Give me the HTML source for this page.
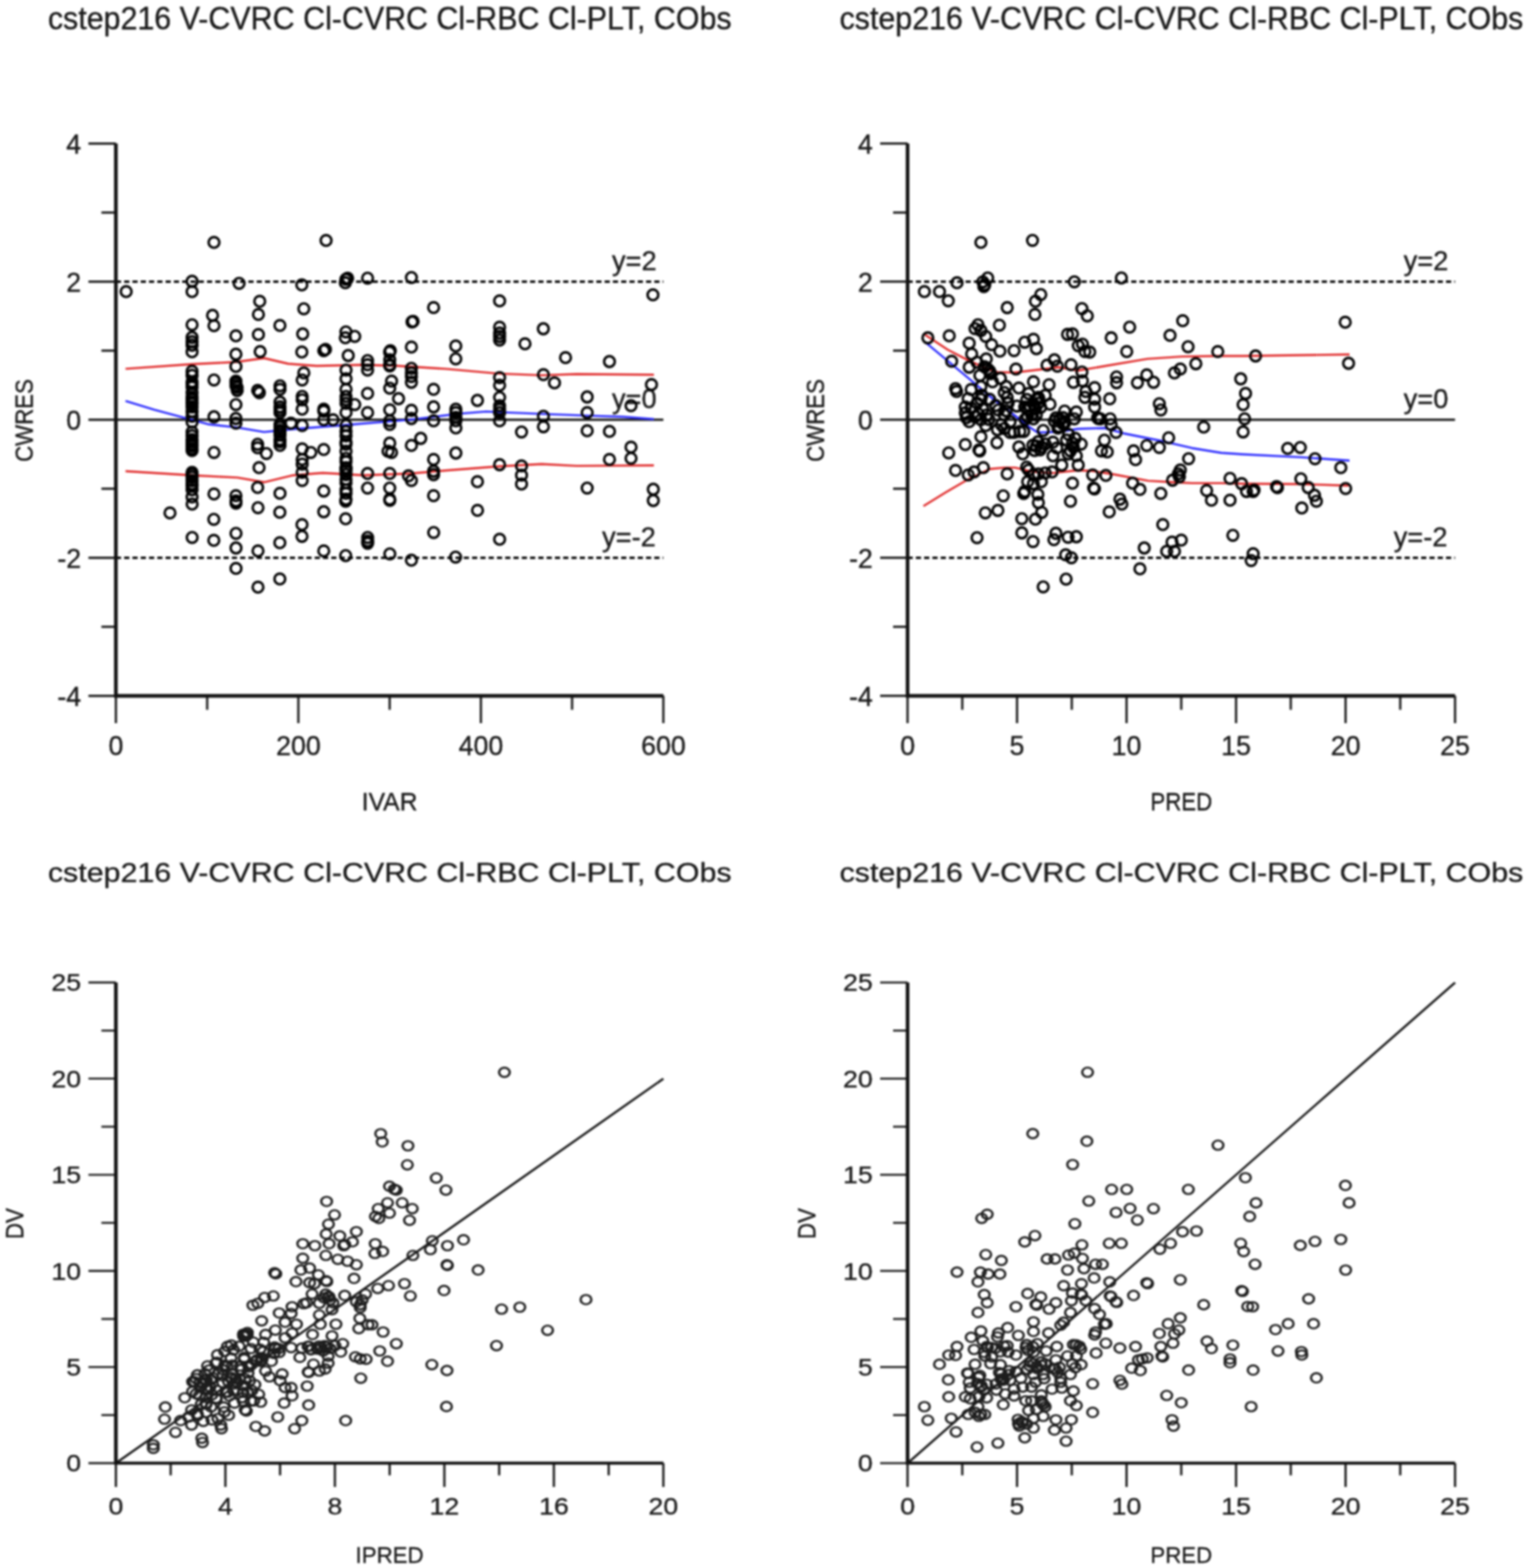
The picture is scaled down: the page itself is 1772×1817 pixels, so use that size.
<!DOCTYPE html>
<html><head><meta charset="utf-8"><style>
html,body{margin:0;padding:0;background:#fff;}
svg{display:block;filter:blur(1px);}
text{stroke:#1a1a1a;stroke-width:0.4px;}
</style></head><body>
<svg width="1772" height="1817" viewBox="0 0 1772 1817" font-family="'Liberation Sans', Arial, sans-serif" fill="#1a1a1a">
<rect width="1772" height="1817" fill="#fff"/>
<g>
<text x="55.4" y="34" font-size="37" textLength="792.5" lengthAdjust="spacingAndGlyphs">cstep216 V-CVRC Cl-CVRC Cl-RBC Cl-PLT, CObs</text>
<line x1="102.5" y1="166.3" x2="134.3" y2="166.3" stroke="#222" stroke-width="2.7"/>
<text x="94.0" y="177.6" font-size="31" text-anchor="end">4</text>
<line x1="102.5" y1="326.3" x2="134.3" y2="326.3" stroke="#222" stroke-width="2.7"/>
<text x="94.0" y="337.6" font-size="31" text-anchor="end">2</text>
<line x1="102.5" y1="486.3" x2="134.3" y2="486.3" stroke="#222" stroke-width="2.7"/>
<text x="94.0" y="497.6" font-size="31" text-anchor="end">0</text>
<line x1="102.5" y1="646.3" x2="134.3" y2="646.3" stroke="#222" stroke-width="2.7"/>
<text x="94.0" y="657.6" font-size="31" text-anchor="end">-2</text>
<line x1="102.5" y1="806.3" x2="134.3" y2="806.3" stroke="#222" stroke-width="2.7"/>
<text x="94.0" y="817.6" font-size="31" text-anchor="end">-4</text>
<line x1="117.5" y1="246.3" x2="134.3" y2="246.3" stroke="#222" stroke-width="2.7"/>
<line x1="117.5" y1="406.3" x2="134.3" y2="406.3" stroke="#222" stroke-width="2.7"/>
<line x1="117.5" y1="566.3" x2="134.3" y2="566.3" stroke="#222" stroke-width="2.7"/>
<line x1="117.5" y1="726.3" x2="134.3" y2="726.3" stroke="#222" stroke-width="2.7"/>
<line x1="134.3" y1="806.3" x2="134.3" y2="838" stroke="#222" stroke-width="2.7"/>
<text x="134.3" y="875" font-size="31" text-anchor="middle">0</text>
<line x1="345.8" y1="806.3" x2="345.8" y2="838" stroke="#222" stroke-width="2.7"/>
<text x="345.8" y="875" font-size="31" text-anchor="middle">200</text>
<line x1="557.3" y1="806.3" x2="557.3" y2="838" stroke="#222" stroke-width="2.7"/>
<text x="557.3" y="875" font-size="31" text-anchor="middle">400</text>
<line x1="768.8" y1="806.3" x2="768.8" y2="838" stroke="#222" stroke-width="2.7"/>
<text x="768.8" y="875" font-size="31" text-anchor="middle">600</text>
<line x1="240.1" y1="806.3" x2="240.1" y2="822.5" stroke="#222" stroke-width="2.7"/>
<line x1="451.6" y1="806.3" x2="451.6" y2="822.5" stroke="#222" stroke-width="2.7"/>
<line x1="663.0" y1="806.3" x2="663.0" y2="822.5" stroke="#222" stroke-width="2.7"/>
<text x="451.5" y="939" font-size="30" text-anchor="middle" textLength="64.5" lengthAdjust="spacingAndGlyphs">IVAR</text>
<text transform="translate(37.5,487.3) rotate(-90)" font-size="30" text-anchor="middle" textLength="96" lengthAdjust="spacingAndGlyphs">CWRES</text>
<text x="761.0" y="313.3" font-size="31.5" text-anchor="end">y=2</text>
<text x="761.0" y="472.8" font-size="31.5" text-anchor="end">y=0</text>
<text x="760.0" y="632.5" font-size="31.5" text-anchor="end">y=-2</text>
<line x1="134.3" y1="326.3" x2="768.8" y2="326.3" stroke="#000" stroke-width="2.8" stroke-dasharray="6 3.6"/>
<line x1="134.3" y1="646.3" x2="768.8" y2="646.3" stroke="#000" stroke-width="2.8" stroke-dasharray="6 3.6"/>
<line x1="134.3" y1="486.3" x2="768.8" y2="486.3" stroke="#222" stroke-width="2.8"/>
<path d="M145.5 427.4 L222.0 422.0 L273.5 419.5 L306.0 415.0 L334.0 421.5 L367.0 424.0 L421.0 422.7 L462.0 424.0 L516.0 427.4 L577.0 432.9 L627.7 434.9 L668.4 433.5 L757.8 434.2" fill="none" stroke="#e02828" stroke-width="2.4" stroke-linejoin="round"/>
<path d="M145.5 546.0 L222.0 550.7 L274.9 553.4 L306.0 558.8 L339.9 550.7 L374.0 548.0 L421.3 550.7 L475.4 548.7 L516.0 545.3 L577.0 540.5 L627.7 537.8 L668.4 539.9 L757.8 539.2" fill="none" stroke="#e02828" stroke-width="2.4" stroke-linejoin="round"/>
<path d="M145.5 464.7 L179.1 474.8 L222.0 486.4 L242.4 491.8 L273.4 495.1 L306.0 500.6 L339.9 497.2 L394.0 493.0 L475.4 486.4 L529.6 479.6 L563.5 476.9 L579.0 477.6 L627.7 479.6 L680.5 481.6 L722.5 483.0 L757.8 485.7" fill="none" stroke="#2828ff" stroke-width="2.4" stroke-linejoin="round"/>
<g fill="none" stroke="#000" stroke-width="2.9"><circle cx="146.2" cy="337.9" r="6.2"/><circle cx="222.6" cy="326.0" r="6.2"/><circle cx="222.6" cy="337.9" r="6.2"/><circle cx="222.6" cy="376.3" r="6.2"/><circle cx="222.6" cy="391.0" r="6.2"/><circle cx="222.6" cy="396.0" r="6.2"/><circle cx="222.6" cy="400.0" r="6.2"/><circle cx="222.6" cy="407.7" r="6.2"/><circle cx="248.0" cy="280.9" r="6.2"/><circle cx="246.3" cy="365.5" r="6.2"/><circle cx="248.0" cy="377.4" r="6.2"/><circle cx="277.1" cy="328.3" r="6.2"/><circle cx="273.4" cy="389.2" r="6.2"/><circle cx="273.4" cy="410.5" r="6.2"/><circle cx="301.0" cy="349.2" r="6.2"/><circle cx="299.5" cy="364.4" r="6.2"/><circle cx="299.5" cy="387.7" r="6.2"/><circle cx="301.5" cy="407.5" r="6.2"/><circle cx="377.9" cy="278.7" r="6.2"/><circle cx="349.8" cy="330.2" r="6.2"/><circle cx="400.9" cy="323.7" r="6.2"/><circle cx="402.9" cy="322.3" r="6.2"/><circle cx="400.2" cy="327.7" r="6.2"/><circle cx="426.0" cy="322.3" r="6.2"/><circle cx="476.8" cy="321.6" r="6.2"/><circle cx="352.1" cy="357.8" r="6.2"/><circle cx="502.5" cy="356.4" r="6.2"/><circle cx="324.4" cy="377.2" r="6.2"/><circle cx="478.8" cy="372.4" r="6.2"/><circle cx="477.5" cy="373.0" r="6.2"/><circle cx="350.8" cy="387.0" r="6.2"/><circle cx="400.9" cy="384.6" r="6.2"/><circle cx="400.2" cy="391.4" r="6.2"/><circle cx="411.1" cy="389.8" r="6.2"/><circle cx="349.8" cy="407.9" r="6.2"/><circle cx="377.2" cy="404.9" r="6.2"/><circle cx="375.2" cy="406.3" r="6.2"/><circle cx="403.6" cy="412.0" r="6.2"/><circle cx="426.0" cy="417.8" r="6.2"/><circle cx="452.4" cy="406.3" r="6.2"/><circle cx="451.5" cy="408.0" r="6.2"/><circle cx="451.7" cy="417.0" r="6.2"/><circle cx="476.8" cy="402.2" r="6.2"/><circle cx="528.2" cy="400.9" r="6.2"/><circle cx="528.2" cy="415.8" r="6.2"/><circle cx="579.0" cy="348.7" r="6.2"/><circle cx="579.0" cy="379.2" r="6.2"/><circle cx="579.0" cy="386.0" r="6.2"/><circle cx="579.0" cy="390.0" r="6.2"/><circle cx="579.0" cy="394.1" r="6.2"/><circle cx="608.4" cy="398.4" r="6.2"/><circle cx="629.7" cy="381.0" r="6.2"/><circle cx="655.4" cy="414.4" r="6.2"/><circle cx="706.3" cy="419.0" r="6.2"/><circle cx="756.7" cy="341.7" r="6.2"/><circle cx="222.6" cy="430.2" r="6.2"/><circle cx="222.6" cy="442.3" r="6.2"/><circle cx="222.6" cy="448.4" r="6.2"/><circle cx="222.6" cy="460.6" r="6.2"/><circle cx="222.6" cy="466.0" r="6.2"/><circle cx="222.6" cy="471.5" r="6.2"/><circle cx="222.6" cy="476.9" r="6.2"/><circle cx="222.6" cy="482.3" r="6.2"/><circle cx="222.6" cy="489.1" r="6.2"/><circle cx="222.6" cy="500.6" r="6.2"/><circle cx="222.6" cy="509.4" r="6.2"/><circle cx="222.6" cy="514.8" r="6.2"/><circle cx="222.6" cy="520.2" r="6.2"/><circle cx="222.6" cy="547.3" r="6.2"/><circle cx="222.6" cy="550.0" r="6.2"/><circle cx="222.6" cy="560.9" r="6.2"/><circle cx="222.6" cy="567.6" r="6.2"/><circle cx="222.6" cy="575.8" r="6.2"/><circle cx="248.0" cy="440.3" r="6.2"/><circle cx="248.0" cy="483.0" r="6.2"/><circle cx="248.0" cy="524.3" r="6.2"/><circle cx="248.0" cy="572.4" r="6.2"/><circle cx="273.4" cy="424.7" r="6.2"/><circle cx="273.4" cy="441.7" r="6.2"/><circle cx="274.9" cy="449.1" r="6.2"/><circle cx="274.9" cy="452.5" r="6.2"/><circle cx="273.4" cy="468.8" r="6.2"/><circle cx="273.4" cy="485.0" r="6.2"/><circle cx="273.4" cy="490.4" r="6.2"/><circle cx="273.4" cy="574.4" r="6.2"/><circle cx="298.6" cy="452.5" r="6.2"/><circle cx="300.6" cy="455.0" r="6.2"/><circle cx="298.6" cy="514.8" r="6.2"/><circle cx="298.6" cy="518.9" r="6.2"/><circle cx="308.7" cy="525.6" r="6.2"/><circle cx="300.2" cy="541.9" r="6.2"/><circle cx="298.6" cy="564.9" r="6.2"/><circle cx="324.5" cy="447.1" r="6.2"/><circle cx="324.5" cy="451.2" r="6.2"/><circle cx="324.5" cy="466.0" r="6.2"/><circle cx="324.5" cy="471.5" r="6.2"/><circle cx="324.5" cy="478.2" r="6.2"/><circle cx="324.5" cy="491.8" r="6.2"/><circle cx="324.5" cy="498.6" r="6.2"/><circle cx="324.5" cy="504.0" r="6.2"/><circle cx="324.5" cy="509.4" r="6.2"/><circle cx="324.5" cy="516.2" r="6.2"/><circle cx="324.5" cy="571.7" r="6.2"/><circle cx="337.2" cy="490.4" r="6.2"/><circle cx="352.1" cy="432.2" r="6.2"/><circle cx="350.2" cy="440.3" r="6.2"/><circle cx="350.2" cy="459.3" r="6.2"/><circle cx="350.2" cy="463.3" r="6.2"/><circle cx="350.2" cy="474.2" r="6.2"/><circle cx="350.2" cy="493.1" r="6.2"/><circle cx="350.2" cy="520.2" r="6.2"/><circle cx="350.2" cy="532.4" r="6.2"/><circle cx="350.2" cy="537.8" r="6.2"/><circle cx="350.2" cy="547.3" r="6.2"/><circle cx="350.2" cy="556.8" r="6.2"/><circle cx="360.2" cy="524.3" r="6.2"/><circle cx="375.2" cy="474.2" r="6.2"/><circle cx="375.2" cy="476.5" r="6.2"/><circle cx="375.2" cy="486.4" r="6.2"/><circle cx="386.0" cy="486.4" r="6.2"/><circle cx="375.2" cy="520.9" r="6.2"/><circle cx="375.2" cy="569.0" r="6.2"/><circle cx="401.0" cy="428.8" r="6.2"/><circle cx="401.0" cy="439.0" r="6.2"/><circle cx="401.0" cy="451.2" r="6.2"/><circle cx="401.0" cy="459.3" r="6.2"/><circle cx="401.0" cy="463.3" r="6.2"/><circle cx="401.0" cy="467.4" r="6.2"/><circle cx="401.0" cy="478.2" r="6.2"/><circle cx="401.0" cy="493.1" r="6.2"/><circle cx="401.0" cy="499.9" r="6.2"/><circle cx="401.0" cy="512.1" r="6.2"/><circle cx="401.0" cy="514.8" r="6.2"/><circle cx="401.0" cy="522.9" r="6.2"/><circle cx="401.0" cy="531.1" r="6.2"/><circle cx="401.0" cy="541.9" r="6.2"/><circle cx="401.0" cy="546.0" r="6.2"/><circle cx="401.0" cy="550.0" r="6.2"/><circle cx="401.0" cy="555.4" r="6.2"/><circle cx="401.0" cy="559.5" r="6.2"/><circle cx="401.0" cy="567.6" r="6.2"/><circle cx="401.0" cy="571.7" r="6.2"/><circle cx="401.0" cy="578.5" r="6.2"/><circle cx="411.1" cy="468.8" r="6.2"/><circle cx="426.0" cy="422.7" r="6.2"/><circle cx="426.0" cy="428.8" r="6.2"/><circle cx="426.0" cy="455.9" r="6.2"/><circle cx="426.0" cy="478.2" r="6.2"/><circle cx="426.0" cy="548.7" r="6.2"/><circle cx="426.0" cy="565.6" r="6.2"/><circle cx="451.7" cy="422.7" r="6.2"/><circle cx="451.7" cy="424.0" r="6.2"/><circle cx="453.8" cy="441.7" r="6.2"/><circle cx="451.7" cy="449.8" r="6.2"/><circle cx="461.9" cy="462.0" r="6.2"/><circle cx="451.7" cy="474.9" r="6.2"/><circle cx="451.7" cy="487.7" r="6.2"/><circle cx="451.7" cy="491.8" r="6.2"/><circle cx="451.7" cy="513.5" r="6.2"/><circle cx="449.7" cy="522.9" r="6.2"/><circle cx="453.8" cy="524.3" r="6.2"/><circle cx="451.7" cy="548.7" r="6.2"/><circle cx="451.7" cy="565.6" r="6.2"/><circle cx="451.7" cy="578.5" r="6.2"/><circle cx="476.8" cy="426.8" r="6.2"/><circle cx="476.8" cy="432.2" r="6.2"/><circle cx="476.8" cy="436.3" r="6.2"/><circle cx="476.8" cy="443.0" r="6.2"/><circle cx="476.8" cy="475.5" r="6.2"/><circle cx="476.8" cy="485.0" r="6.2"/><circle cx="476.8" cy="516.2" r="6.2"/><circle cx="476.8" cy="556.8" r="6.2"/><circle cx="473.4" cy="551.4" r="6.2"/><circle cx="487.6" cy="508.0" r="6.2"/><circle cx="502.5" cy="451.2" r="6.2"/><circle cx="502.5" cy="471.5" r="6.2"/><circle cx="502.5" cy="487.7" r="6.2"/><circle cx="502.5" cy="532.4" r="6.2"/><circle cx="502.5" cy="546.0" r="6.2"/><circle cx="502.5" cy="550.0" r="6.2"/><circle cx="502.5" cy="574.4" r="6.2"/><circle cx="528.3" cy="474.2" r="6.2"/><circle cx="528.3" cy="478.2" r="6.2"/><circle cx="528.3" cy="483.7" r="6.2"/><circle cx="528.3" cy="487.7" r="6.2"/><circle cx="528.3" cy="495.9" r="6.2"/><circle cx="528.3" cy="525.0" r="6.2"/><circle cx="553.3" cy="464.0" r="6.2"/><circle cx="553.3" cy="558.2" r="6.2"/><circle cx="579.0" cy="437.6" r="6.2"/><circle cx="579.0" cy="446.4" r="6.2"/><circle cx="579.0" cy="460.6" r="6.2"/><circle cx="579.0" cy="470.1" r="6.2"/><circle cx="579.0" cy="474.2" r="6.2"/><circle cx="579.0" cy="478.2" r="6.2"/><circle cx="579.0" cy="487.7" r="6.2"/><circle cx="579.0" cy="538.5" r="6.2"/><circle cx="629.8" cy="434.2" r="6.2"/><circle cx="642.6" cy="443.7" r="6.2"/><circle cx="755.0" cy="445.7" r="6.2"/><circle cx="680.5" cy="460.0" r="6.2"/><circle cx="731.3" cy="470.1" r="6.2"/><circle cx="680.5" cy="478.2" r="6.2"/><circle cx="629.8" cy="482.3" r="6.2"/><circle cx="629.8" cy="494.5" r="6.2"/><circle cx="604.4" cy="500.6" r="6.2"/><circle cx="680.5" cy="499.2" r="6.2"/><circle cx="706.3" cy="499.9" r="6.2"/><circle cx="731.3" cy="518.2" r="6.2"/><circle cx="706.3" cy="532.4" r="6.2"/><circle cx="731.3" cy="531.1" r="6.2"/><circle cx="604.4" cy="539.9" r="6.2"/><circle cx="604.4" cy="550.7" r="6.2"/><circle cx="604.4" cy="560.9" r="6.2"/><circle cx="680.5" cy="565.6" r="6.2"/><circle cx="757.1" cy="567.0" r="6.2"/><circle cx="757.1" cy="580.0" r="6.2"/><circle cx="197.0" cy="594.4" r="6.2"/><circle cx="222.7" cy="584.2" r="6.2"/><circle cx="247.8" cy="601.8" r="6.2"/><circle cx="273.5" cy="580.5" r="6.2"/><circle cx="273.5" cy="583.0" r="6.2"/><circle cx="299.0" cy="588.3" r="6.2"/><circle cx="324.3" cy="593.7" r="6.2"/><circle cx="350.0" cy="607.9" r="6.2"/><circle cx="350.0" cy="621.5" r="6.2"/><circle cx="222.7" cy="622.8" r="6.2"/><circle cx="247.8" cy="626.2" r="6.2"/><circle cx="273.5" cy="618.1" r="6.2"/><circle cx="273.5" cy="635.0" r="6.2"/><circle cx="299.0" cy="638.4" r="6.2"/><circle cx="324.3" cy="628.9" r="6.2"/><circle cx="273.5" cy="658.7" r="6.2"/><circle cx="324.3" cy="670.9" r="6.2"/><circle cx="299.0" cy="680.4" r="6.2"/><circle cx="400.6" cy="580.8" r="6.2"/><circle cx="451.8" cy="579.8" r="6.2"/><circle cx="375.2" cy="593.0" r="6.2"/><circle cx="400.6" cy="601.2" r="6.2"/><circle cx="553.4" cy="591.4" r="6.2"/><circle cx="502.6" cy="617.1" r="6.2"/><circle cx="426.1" cy="622.8" r="6.2"/><circle cx="426.1" cy="626.9" r="6.2"/><circle cx="426.1" cy="629.6" r="6.2"/><circle cx="579.0" cy="624.9" r="6.2"/><circle cx="375.2" cy="638.4" r="6.2"/><circle cx="400.6" cy="643.8" r="6.2"/><circle cx="451.8" cy="641.8" r="6.2"/><circle cx="476.8" cy="649.2" r="6.2"/><circle cx="528.0" cy="645.6" r="6.2"/><circle cx="222.6" cy="435.0" r="6.2"/><circle cx="222.6" cy="445.0" r="6.2"/><circle cx="222.6" cy="455.0" r="6.2"/><circle cx="222.6" cy="463.0" r="6.2"/><circle cx="222.6" cy="468.0" r="6.2"/><circle cx="222.6" cy="505.0" r="6.2"/><circle cx="222.6" cy="512.0" r="6.2"/><circle cx="222.6" cy="517.0" r="6.2"/><circle cx="222.6" cy="522.0" r="6.2"/><circle cx="222.6" cy="553.0" r="6.2"/><circle cx="222.6" cy="557.0" r="6.2"/><circle cx="222.6" cy="563.0" r="6.2"/><circle cx="273.4" cy="444.0" r="6.2"/><circle cx="273.4" cy="447.0" r="6.2"/><circle cx="324.5" cy="475.0" r="6.2"/><circle cx="324.5" cy="495.0" r="6.2"/><circle cx="324.5" cy="501.0" r="6.2"/><circle cx="324.5" cy="512.0" r="6.2"/><circle cx="401.0" cy="505.0" r="6.2"/><circle cx="401.0" cy="535.0" r="6.2"/><circle cx="401.0" cy="543.0" r="6.2"/></g>
<path d="M134.3 166.3 V806.3 H768.8" fill="none" stroke="#111" stroke-width="4.2" stroke-linejoin="miter"/>
<text x="972.9" y="34" font-size="37" textLength="792.5" lengthAdjust="spacingAndGlyphs">cstep216 V-CVRC Cl-CVRC Cl-RBC Cl-PLT, CObs</text>
<line x1="1020.0" y1="166.3" x2="1051.8" y2="166.3" stroke="#222" stroke-width="2.7"/>
<text x="1011.5" y="177.6" font-size="31" text-anchor="end">4</text>
<line x1="1020.0" y1="326.3" x2="1051.8" y2="326.3" stroke="#222" stroke-width="2.7"/>
<text x="1011.5" y="337.6" font-size="31" text-anchor="end">2</text>
<line x1="1020.0" y1="486.3" x2="1051.8" y2="486.3" stroke="#222" stroke-width="2.7"/>
<text x="1011.5" y="497.6" font-size="31" text-anchor="end">0</text>
<line x1="1020.0" y1="646.3" x2="1051.8" y2="646.3" stroke="#222" stroke-width="2.7"/>
<text x="1011.5" y="657.6" font-size="31" text-anchor="end">-2</text>
<line x1="1020.0" y1="806.3" x2="1051.8" y2="806.3" stroke="#222" stroke-width="2.7"/>
<text x="1011.5" y="817.6" font-size="31" text-anchor="end">-4</text>
<line x1="1035.0" y1="246.3" x2="1051.8" y2="246.3" stroke="#222" stroke-width="2.7"/>
<line x1="1035.0" y1="406.3" x2="1051.8" y2="406.3" stroke="#222" stroke-width="2.7"/>
<line x1="1035.0" y1="566.3" x2="1051.8" y2="566.3" stroke="#222" stroke-width="2.7"/>
<line x1="1035.0" y1="726.3" x2="1051.8" y2="726.3" stroke="#222" stroke-width="2.7"/>
<line x1="1051.8" y1="806.3" x2="1051.8" y2="838" stroke="#222" stroke-width="2.7"/>
<text x="1051.8" y="875" font-size="31" text-anchor="middle">0</text>
<line x1="1178.7" y1="806.3" x2="1178.7" y2="838" stroke="#222" stroke-width="2.7"/>
<text x="1178.7" y="875" font-size="31" text-anchor="middle">5</text>
<line x1="1305.6" y1="806.3" x2="1305.6" y2="838" stroke="#222" stroke-width="2.7"/>
<text x="1305.6" y="875" font-size="31" text-anchor="middle">10</text>
<line x1="1432.5" y1="806.3" x2="1432.5" y2="838" stroke="#222" stroke-width="2.7"/>
<text x="1432.5" y="875" font-size="31" text-anchor="middle">15</text>
<line x1="1559.4" y1="806.3" x2="1559.4" y2="838" stroke="#222" stroke-width="2.7"/>
<text x="1559.4" y="875" font-size="31" text-anchor="middle">20</text>
<line x1="1686.3" y1="806.3" x2="1686.3" y2="838" stroke="#222" stroke-width="2.7"/>
<text x="1686.3" y="875" font-size="31" text-anchor="middle">25</text>
<line x1="1115.2" y1="806.3" x2="1115.2" y2="822.5" stroke="#222" stroke-width="2.7"/>
<line x1="1242.1" y1="806.3" x2="1242.1" y2="822.5" stroke="#222" stroke-width="2.7"/>
<line x1="1369.0" y1="806.3" x2="1369.0" y2="822.5" stroke="#222" stroke-width="2.7"/>
<line x1="1495.9" y1="806.3" x2="1495.9" y2="822.5" stroke="#222" stroke-width="2.7"/>
<line x1="1622.8" y1="806.3" x2="1622.8" y2="822.5" stroke="#222" stroke-width="2.7"/>
<text x="1369.0" y="939" font-size="30" text-anchor="middle" textLength="71.5" lengthAdjust="spacingAndGlyphs">PRED</text>
<text transform="translate(955.0,487.3) rotate(-90)" font-size="30" text-anchor="middle" textLength="96" lengthAdjust="spacingAndGlyphs">CWRES</text>
<text x="1678.5" y="313.3" font-size="31.5" text-anchor="end">y=2</text>
<text x="1678.5" y="472.8" font-size="31.5" text-anchor="end">y=0</text>
<text x="1677.5" y="632.5" font-size="31.5" text-anchor="end">y=-2</text>
<line x1="1051.8" y1="326.3" x2="1686.3" y2="326.3" stroke="#000" stroke-width="2.8" stroke-dasharray="6 3.6"/>
<line x1="1051.8" y1="646.3" x2="1686.3" y2="646.3" stroke="#000" stroke-width="2.8" stroke-dasharray="6 3.6"/>
<line x1="1051.8" y1="486.3" x2="1686.3" y2="486.3" stroke="#222" stroke-width="2.8"/>
<path d="M1072.2 388.1 L1098.4 405.2 L1122.7 417.9 L1144.7 427.7 L1156.0 431.1 L1175.2 431.7 L1213.5 427.2 L1227.1 425.5 L1249.0 429.5 L1279.9 424.3 L1329.5 415.9 L1370.2 413.1 L1415.3 412.5 L1441.0 412.5 L1564.0 410.8" fill="none" stroke="#e02828" stroke-width="2.4" stroke-linejoin="round"/>
<path d="M1070.2 586.4 L1096.1 570.6 L1121.0 556.0 L1146.9 543.5 L1163.9 541.9 L1176.3 541.9 L1197.7 546.9 L1220.3 548.1 L1249.0 545.0 L1266.3 545.8 L1291.1 549.8 L1330.6 557.1 L1358.9 558.8 L1381.4 559.9 L1415.3 559.9 L1441.0 560.5 L1508.7 561.0 L1562.9 562.7" fill="none" stroke="#e02828" stroke-width="2.4" stroke-linejoin="round"/>
<path d="M1073.0 397.1 L1100.1 419.7 L1130.0 444.7 L1152.6 463.8 L1175.2 480.8 L1192.1 494.3 L1202.2 501.1 L1227.1 500.5 L1249.0 497.0 L1279.9 496.0 L1302.4 502.2 L1347.6 511.3 L1381.4 519.2 L1415.3 524.8 L1441.0 526.5 L1508.7 529.9 L1564.0 533.8" fill="none" stroke="#2828ff" stroke-width="2.4" stroke-linejoin="round"/>
<g fill="none" stroke="#000" stroke-width="2.9"><circle cx="1136.8" cy="280.9" r="6.2"/><circle cx="1196.6" cy="278.6" r="6.2"/><circle cx="1109.1" cy="327.7" r="6.2"/><circle cx="1139.0" cy="326.6" r="6.2"/><circle cx="1144.7" cy="322.1" r="6.2"/><circle cx="1141.3" cy="330.0" r="6.2"/><circle cx="1140.2" cy="332.2" r="6.2"/><circle cx="1245.1" cy="326.6" r="6.2"/><circle cx="1071.3" cy="337.9" r="6.2"/><circle cx="1088.8" cy="337.9" r="6.2"/><circle cx="1099.0" cy="348.6" r="6.2"/><circle cx="1167.3" cy="356.5" r="6.2"/><circle cx="1206.2" cy="341.3" r="6.2"/><circle cx="1200.0" cy="349.2" r="6.2"/><circle cx="1199.4" cy="364.4" r="6.2"/><circle cx="1158.2" cy="376.8" r="6.2"/><circle cx="1133.4" cy="376.3" r="6.2"/><circle cx="1130.0" cy="380.8" r="6.2"/><circle cx="1136.8" cy="383.0" r="6.2"/><circle cx="1142.4" cy="389.8" r="6.2"/><circle cx="1100.1" cy="389.2" r="6.2"/><circle cx="1075.3" cy="391.5" r="6.2"/><circle cx="1237.2" cy="387.5" r="6.2"/><circle cx="1242.9" cy="387.0" r="6.2"/><circle cx="1123.2" cy="397.7" r="6.2"/><circle cx="1187.6" cy="396.6" r="6.2"/><circle cx="1197.7" cy="393.2" r="6.2"/><circle cx="1149.2" cy="399.4" r="6.2"/><circle cx="1158.8" cy="406.9" r="6.2"/><circle cx="1175.2" cy="406.3" r="6.2"/><circle cx="1201.1" cy="404.0" r="6.2"/><circle cx="1126.1" cy="410.2" r="6.2"/><circle cx="1143.0" cy="415.9" r="6.2"/><circle cx="1102.9" cy="418.7" r="6.2"/><circle cx="1123.2" cy="425.5" r="6.2"/><circle cx="1132.3" cy="419.8" r="6.2"/><circle cx="1144.7" cy="427.7" r="6.2"/><circle cx="1146.9" cy="430.0" r="6.2"/><circle cx="1135.6" cy="435.1" r="6.2"/><circle cx="1177.4" cy="427.7" r="6.2"/><circle cx="1213.5" cy="423.2" r="6.2"/><circle cx="1222.0" cy="417.0" r="6.2"/><circle cx="1225.4" cy="424.3" r="6.2"/><circle cx="1241.2" cy="422.7" r="6.2"/><circle cx="1244.0" cy="443.0" r="6.2"/><circle cx="1249.6" cy="400.6" r="6.2"/><circle cx="1159.4" cy="438.5" r="6.2"/><circle cx="1150.3" cy="442.4" r="6.2"/><circle cx="1197.7" cy="442.4" r="6.2"/><circle cx="1215.8" cy="445.8" r="6.2"/><circle cx="1180.8" cy="449.7" r="6.2"/><circle cx="1107.4" cy="450.3" r="6.2"/><circle cx="1108.6" cy="453.7" r="6.2"/><circle cx="1125.5" cy="451.4" r="6.2"/><circle cx="1136.8" cy="448.0" r="6.2"/><circle cx="1166.1" cy="448.0" r="6.2"/><circle cx="1163.9" cy="454.8" r="6.2"/><circle cx="1167.3" cy="460.5" r="6.2"/><circle cx="1192.1" cy="456.0" r="6.2"/><circle cx="1146.9" cy="462.7" r="6.2"/><circle cx="1203.4" cy="460.5" r="6.2"/><circle cx="1211.3" cy="458.2" r="6.2"/><circle cx="1216.9" cy="468.4" r="6.2"/><circle cx="1118.7" cy="478.5" r="6.2"/><circle cx="1125.5" cy="472.9" r="6.2"/><circle cx="1132.3" cy="467.2" r="6.2"/><circle cx="1136.8" cy="462.7" r="6.2"/><circle cx="1139.0" cy="474.0" r="6.2"/><circle cx="1143.5" cy="480.8" r="6.2"/><circle cx="1130.0" cy="483.0" r="6.2"/><circle cx="1123.2" cy="488.7" r="6.2"/><circle cx="1136.8" cy="486.4" r="6.2"/><circle cx="1118.7" cy="471.7" r="6.2"/><circle cx="1142.4" cy="493.2" r="6.2"/><circle cx="1157.1" cy="475.1" r="6.2"/><circle cx="1168.4" cy="467.2" r="6.2"/><circle cx="1163.9" cy="480.8" r="6.2"/><circle cx="1160.5" cy="492.1" r="6.2"/><circle cx="1163.9" cy="496.6" r="6.2"/><circle cx="1170.6" cy="488.7" r="6.2"/><circle cx="1178.5" cy="470.6" r="6.2"/><circle cx="1175.2" cy="501.1" r="6.2"/><circle cx="1181.9" cy="500.0" r="6.2"/><circle cx="1186.4" cy="500.0" r="6.2"/><circle cx="1170.6" cy="501.1" r="6.2"/><circle cx="1201.1" cy="462.7" r="6.2"/><circle cx="1197.7" cy="468.4" r="6.2"/><circle cx="1192.1" cy="474.0" r="6.2"/><circle cx="1195.5" cy="480.8" r="6.2"/><circle cx="1200.0" cy="474.0" r="6.2"/><circle cx="1191.0" cy="483.0" r="6.2"/><circle cx="1203.4" cy="467.2" r="6.2"/><circle cx="1187.6" cy="471.7" r="6.2"/><circle cx="1197.7" cy="485.3" r="6.2"/><circle cx="1233.8" cy="476.3" r="6.2"/><circle cx="1223.7" cy="484.2" r="6.2"/><circle cx="1231.6" cy="491.0" r="6.2"/><circle cx="1227.1" cy="494.3" r="6.2"/><circle cx="1247.4" cy="477.4" r="6.2"/><circle cx="1238.4" cy="503.4" r="6.2"/><circle cx="1245.1" cy="485.3" r="6.2"/><circle cx="1209.0" cy="498.8" r="6.2"/><circle cx="1136.8" cy="506.2" r="6.2"/><circle cx="1155.4" cy="513.0" r="6.2"/><circle cx="1118.7" cy="515.2" r="6.2"/><circle cx="1134.5" cy="521.4" r="6.2"/><circle cx="1135.5" cy="522.5" r="6.2"/><circle cx="1099.5" cy="524.8" r="6.2"/><circle cx="1180.8" cy="518.0" r="6.2"/><circle cx="1185.3" cy="525.9" r="6.2"/><circle cx="1201.1" cy="516.9" r="6.2"/><circle cx="1205.6" cy="521.4" r="6.2"/><circle cx="1211.3" cy="514.6" r="6.2"/><circle cx="1220.3" cy="512.4" r="6.2"/><circle cx="1224.8" cy="519.2" r="6.2"/><circle cx="1220.3" cy="528.2" r="6.2"/><circle cx="1242.9" cy="513.5" r="6.2"/><circle cx="1240.6" cy="522.5" r="6.2"/><circle cx="1247.4" cy="528.2" r="6.2"/><circle cx="1107.4" cy="545.2" r="6.2"/><circle cx="1122.1" cy="550.3" r="6.2"/><circle cx="1128.9" cy="546.9" r="6.2"/><circle cx="1139.6" cy="541.9" r="6.2"/><circle cx="1167.3" cy="549.2" r="6.2"/><circle cx="1189.8" cy="541.3" r="6.2"/><circle cx="1192.1" cy="544.7" r="6.2"/><circle cx="1197.7" cy="550.3" r="6.2"/><circle cx="1203.4" cy="549.2" r="6.2"/><circle cx="1211.3" cy="548.1" r="6.2"/><circle cx="1219.2" cy="546.9" r="6.2"/><circle cx="1230.5" cy="539.0" r="6.2"/><circle cx="1249.6" cy="539.0" r="6.2"/><circle cx="1191.0" cy="558.2" r="6.2"/><circle cx="1197.7" cy="560.5" r="6.2"/><circle cx="1206.8" cy="558.2" r="6.2"/><circle cx="1187.6" cy="569.5" r="6.2"/><circle cx="1186.4" cy="571.8" r="6.2"/><circle cx="1202.8" cy="572.9" r="6.2"/><circle cx="1203.4" cy="582.5" r="6.2"/><circle cx="1207.3" cy="593.8" r="6.2"/><circle cx="1200.0" cy="601.7" r="6.2"/><circle cx="1184.2" cy="601.1" r="6.2"/><circle cx="1162.7" cy="574.6" r="6.2"/><circle cx="1156.5" cy="591.5" r="6.2"/><circle cx="1141.9" cy="594.3" r="6.2"/><circle cx="1132.3" cy="623.1" r="6.2"/><circle cx="1184.2" cy="617.5" r="6.2"/><circle cx="1197.2" cy="627.6" r="6.2"/><circle cx="1242.9" cy="559.9" r="6.2"/><circle cx="1240.6" cy="580.8" r="6.2"/><circle cx="1223.7" cy="618.0" r="6.2"/><circle cx="1221.4" cy="625.4" r="6.2"/><circle cx="1237.8" cy="622.6" r="6.2"/><circle cx="1247.4" cy="622.0" r="6.2"/><circle cx="1235.0" cy="642.9" r="6.2"/><circle cx="1241.7" cy="646.3" r="6.2"/><circle cx="1235.5" cy="671.1" r="6.2"/><circle cx="1209.0" cy="680.1" r="6.2"/><circle cx="1299.6" cy="322.1" r="6.2"/><circle cx="1253.9" cy="357.6" r="6.2"/><circle cx="1260.1" cy="366.1" r="6.2"/><circle cx="1309.2" cy="379.1" r="6.2"/><circle cx="1370.7" cy="371.7" r="6.2"/><circle cx="1356.0" cy="388.7" r="6.2"/><circle cx="1287.8" cy="391.5" r="6.2"/><circle cx="1254.5" cy="398.8" r="6.2"/><circle cx="1257.3" cy="407.4" r="6.2"/><circle cx="1262.9" cy="408.0" r="6.2"/><circle cx="1305.8" cy="407.4" r="6.2"/><circle cx="1376.9" cy="401.8" r="6.2"/><circle cx="1411.3" cy="407.4" r="6.2"/><circle cx="1253.9" cy="431.1" r="6.2"/><circle cx="1254.5" cy="441.3" r="6.2"/><circle cx="1268.6" cy="449.2" r="6.2"/><circle cx="1258.4" cy="453.7" r="6.2"/><circle cx="1257.3" cy="460.5" r="6.2"/><circle cx="1268.6" cy="462.7" r="6.2"/><circle cx="1268.6" cy="471.7" r="6.2"/><circle cx="1286.1" cy="462.2" r="6.2"/><circle cx="1294.0" cy="436.8" r="6.2"/><circle cx="1294.0" cy="443.5" r="6.2"/><circle cx="1318.2" cy="443.5" r="6.2"/><circle cx="1329.0" cy="434.5" r="6.2"/><circle cx="1336.9" cy="443.0" r="6.2"/><circle cx="1361.1" cy="432.2" r="6.2"/><circle cx="1367.9" cy="427.7" r="6.2"/><circle cx="1385.9" cy="421.5" r="6.2"/><circle cx="1437.9" cy="439.0" r="6.2"/><circle cx="1443.5" cy="456.0" r="6.2"/><circle cx="1440.7" cy="468.9" r="6.2"/><circle cx="1442.4" cy="485.3" r="6.2"/><circle cx="1440.7" cy="500.5" r="6.2"/><circle cx="1343.6" cy="467.8" r="6.2"/><circle cx="1345.3" cy="475.1" r="6.2"/><circle cx="1272.0" cy="484.2" r="6.2"/><circle cx="1273.0" cy="485.0" r="6.2"/><circle cx="1275.3" cy="485.3" r="6.2"/><circle cx="1286.6" cy="485.3" r="6.2"/><circle cx="1287.8" cy="492.1" r="6.2"/><circle cx="1293.4" cy="501.1" r="6.2"/><circle cx="1395.0" cy="494.9" r="6.2"/><circle cx="1354.4" cy="507.3" r="6.2"/><circle cx="1279.9" cy="510.1" r="6.2"/><circle cx="1276.5" cy="522.5" r="6.2"/><circle cx="1283.2" cy="523.7" r="6.2"/><circle cx="1253.0" cy="514.6" r="6.2"/><circle cx="1329.0" cy="516.3" r="6.2"/><circle cx="1343.6" cy="518.6" r="6.2"/><circle cx="1313.7" cy="522.5" r="6.2"/><circle cx="1316.0" cy="532.7" r="6.2"/><circle cx="1377.5" cy="531.6" r="6.2"/><circle cx="1266.3" cy="550.3" r="6.2"/><circle cx="1281.6" cy="550.9" r="6.2"/><circle cx="1267.4" cy="565.6" r="6.2"/><circle cx="1268.4" cy="566.6" r="6.2"/><circle cx="1312.6" cy="559.9" r="6.2"/><circle cx="1321.1" cy="567.2" r="6.2"/><circle cx="1345.3" cy="571.8" r="6.2"/><circle cx="1358.9" cy="556.5" r="6.2"/><circle cx="1365.6" cy="549.2" r="6.2"/><circle cx="1367.9" cy="544.7" r="6.2"/><circle cx="1366.8" cy="552.6" r="6.2"/><circle cx="1297.9" cy="578.5" r="6.2"/><circle cx="1300.2" cy="584.2" r="6.2"/><circle cx="1285.5" cy="593.2" r="6.2"/><circle cx="1398.4" cy="568.4" r="6.2"/><circle cx="1404.0" cy="579.7" r="6.2"/><circle cx="1425.5" cy="554.3" r="6.2"/><circle cx="1439.0" cy="560.5" r="6.2"/><circle cx="1425.5" cy="579.7" r="6.2"/><circle cx="1444.6" cy="569.5" r="6.2"/><circle cx="1347.6" cy="607.9" r="6.2"/><circle cx="1326.1" cy="635.0" r="6.2"/><circle cx="1358.3" cy="628.2" r="6.2"/><circle cx="1369.0" cy="625.9" r="6.2"/><circle cx="1352.1" cy="638.9" r="6.2"/><circle cx="1361.1" cy="638.9" r="6.2"/><circle cx="1321.1" cy="659.2" r="6.2"/><circle cx="1428.8" cy="620.3" r="6.2"/><circle cx="1559.0" cy="373.4" r="6.2"/><circle cx="1455.1" cy="412.5" r="6.2"/><circle cx="1562.9" cy="421.0" r="6.2"/><circle cx="1492.4" cy="519.7" r="6.2"/><circle cx="1507.0" cy="518.6" r="6.2"/><circle cx="1524.0" cy="531.6" r="6.2"/><circle cx="1553.9" cy="541.9" r="6.2"/><circle cx="1453.4" cy="567.8" r="6.2"/><circle cx="1452.3" cy="569.5" r="6.2"/><circle cx="1479.4" cy="563.9" r="6.2"/><circle cx="1480.5" cy="565.0" r="6.2"/><circle cx="1507.6" cy="554.8" r="6.2"/><circle cx="1516.1" cy="565.0" r="6.2"/><circle cx="1523.4" cy="574.0" r="6.2"/><circle cx="1525.6" cy="580.8" r="6.2"/><circle cx="1508.7" cy="588.7" r="6.2"/><circle cx="1559.5" cy="566.1" r="6.2"/><circle cx="1452.3" cy="641.7" r="6.2"/><circle cx="1450.0" cy="649.6" r="6.2"/><circle cx="1190.0" cy="463.0" r="6.2"/><circle cx="1206.0" cy="472.0" r="6.2"/><circle cx="1201.0" cy="481.0" r="6.2"/><circle cx="1188.0" cy="486.0" r="6.2"/><circle cx="1204.0" cy="462.0" r="6.2"/><circle cx="1194.0" cy="471.0" r="6.2"/><circle cx="1122.0" cy="462.0" r="6.2"/><circle cx="1134.0" cy="480.0" r="6.2"/><circle cx="1146.0" cy="486.0" r="6.2"/><circle cx="1120.0" cy="484.0" r="6.2"/><circle cx="1138.0" cy="458.0" r="6.2"/><circle cx="1222.0" cy="488.0" r="6.2"/><circle cx="1228.0" cy="486.0" r="6.2"/><circle cx="1234.0" cy="490.0" r="6.2"/><circle cx="1226.0" cy="496.0" r="6.2"/><circle cx="1232.0" cy="484.0" r="6.2"/><circle cx="1154.0" cy="470.0" r="6.2"/><circle cx="1166.0" cy="476.0" r="6.2"/><circle cx="1156.0" cy="498.0" r="6.2"/><circle cx="1141.0" cy="425.0" r="6.2"/><circle cx="1148.0" cy="433.0" r="6.2"/><circle cx="1197.0" cy="516.0" r="6.2"/><circle cx="1203.0" cy="512.0" r="6.2"/><circle cx="1199.0" cy="522.0" r="6.2"/><circle cx="1207.0" cy="518.0" r="6.2"/><circle cx="1236.0" cy="510.0" r="6.2"/><circle cx="1244.0" cy="518.0" r="6.2"/><circle cx="1238.0" cy="526.0" r="6.2"/><circle cx="1246.0" cy="508.0" r="6.2"/></g>
<path d="M1051.8 166.3 V806.3 H1686.3" fill="none" stroke="#111" stroke-width="4.2" stroke-linejoin="miter"/>
</g>
<g transform="translate(0,993.8) scale(1,0.8703)">
<text x="55.4" y="32.3" font-size="37" textLength="792.5" lengthAdjust="spacingAndGlyphs">cstep216 V-CVRC Cl-CVRC Cl-RBC Cl-PLT, CObs</text>
<line x1="102.5" y1="166.3" x2="134.3" y2="166.3" stroke="#222" stroke-width="2.7"/>
<text x="94.0" y="177.6" font-size="31" text-anchor="end">25</text>
<line x1="102.5" y1="294.3" x2="134.3" y2="294.3" stroke="#222" stroke-width="2.7"/>
<text x="94.0" y="305.6" font-size="31" text-anchor="end">20</text>
<line x1="102.5" y1="422.3" x2="134.3" y2="422.3" stroke="#222" stroke-width="2.7"/>
<text x="94.0" y="433.6" font-size="31" text-anchor="end">15</text>
<line x1="102.5" y1="550.3" x2="134.3" y2="550.3" stroke="#222" stroke-width="2.7"/>
<text x="94.0" y="561.6" font-size="31" text-anchor="end">10</text>
<line x1="102.5" y1="678.3" x2="134.3" y2="678.3" stroke="#222" stroke-width="2.7"/>
<text x="94.0" y="689.6" font-size="31" text-anchor="end">5</text>
<line x1="102.5" y1="806.3" x2="134.3" y2="806.3" stroke="#222" stroke-width="2.7"/>
<text x="94.0" y="817.6" font-size="31" text-anchor="end">0</text>
<line x1="117.5" y1="230.3" x2="134.3" y2="230.3" stroke="#222" stroke-width="2.7"/>
<line x1="117.5" y1="358.3" x2="134.3" y2="358.3" stroke="#222" stroke-width="2.7"/>
<line x1="117.5" y1="486.3" x2="134.3" y2="486.3" stroke="#222" stroke-width="2.7"/>
<line x1="117.5" y1="614.3" x2="134.3" y2="614.3" stroke="#222" stroke-width="2.7"/>
<line x1="117.5" y1="742.3" x2="134.3" y2="742.3" stroke="#222" stroke-width="2.7"/>
<line x1="134.3" y1="806.3" x2="134.3" y2="838" stroke="#222" stroke-width="2.7"/>
<text x="134.3" y="875" font-size="31" text-anchor="middle">0</text>
<line x1="261.2" y1="806.3" x2="261.2" y2="838" stroke="#222" stroke-width="2.7"/>
<text x="261.2" y="875" font-size="31" text-anchor="middle">4</text>
<line x1="388.1" y1="806.3" x2="388.1" y2="838" stroke="#222" stroke-width="2.7"/>
<text x="388.1" y="875" font-size="31" text-anchor="middle">8</text>
<line x1="515.0" y1="806.3" x2="515.0" y2="838" stroke="#222" stroke-width="2.7"/>
<text x="515.0" y="875" font-size="31" text-anchor="middle">12</text>
<line x1="641.9" y1="806.3" x2="641.9" y2="838" stroke="#222" stroke-width="2.7"/>
<text x="641.9" y="875" font-size="31" text-anchor="middle">16</text>
<line x1="768.8" y1="806.3" x2="768.8" y2="838" stroke="#222" stroke-width="2.7"/>
<text x="768.8" y="875" font-size="31" text-anchor="middle">20</text>
<line x1="197.8" y1="806.3" x2="197.8" y2="822.5" stroke="#222" stroke-width="2.7"/>
<line x1="324.6" y1="806.3" x2="324.6" y2="822.5" stroke="#222" stroke-width="2.7"/>
<line x1="451.6" y1="806.3" x2="451.6" y2="822.5" stroke="#222" stroke-width="2.7"/>
<line x1="578.5" y1="806.3" x2="578.5" y2="822.5" stroke="#222" stroke-width="2.7"/>
<line x1="705.4" y1="806.3" x2="705.4" y2="822.5" stroke="#222" stroke-width="2.7"/>
<text x="451.5" y="939" font-size="30" text-anchor="middle" textLength="79" lengthAdjust="spacingAndGlyphs">IPRED</text>
<text transform="translate(27.0,487.3) rotate(-90)" font-size="30" text-anchor="middle">DV</text>
<line x1="134.3" y1="806.3" x2="768.8" y2="294.3" stroke="#1a1a1a" stroke-width="2.8"/>
<g fill="none" stroke="#1e1e1e" stroke-width="2.7"><circle cx="584.6" cy="285.9" r="6.2"/><circle cx="441.2" cy="367.6" r="6.2"/><circle cx="443.0" cy="378.5" r="6.2"/><circle cx="472.8" cy="383.7" r="6.2"/><circle cx="472.1" cy="409.1" r="6.2"/><circle cx="505.6" cy="426.6" r="6.2"/><circle cx="516.8" cy="442.7" r="6.2"/><circle cx="451.4" cy="437.6" r="6.2"/><circle cx="457.0" cy="441.5" r="6.2"/><circle cx="459.3" cy="442.7" r="6.2"/><circle cx="378.5" cy="457.8" r="6.2"/><circle cx="449.1" cy="459.6" r="6.2"/><circle cx="466.1" cy="459.6" r="6.2"/><circle cx="477.8" cy="467.4" r="6.2"/><circle cx="438.3" cy="467.4" r="6.2"/><circle cx="451.4" cy="473.4" r="6.2"/><circle cx="435.1" cy="477.8" r="6.2"/><circle cx="439.0" cy="480.4" r="6.2"/><circle cx="474.6" cy="482.9" r="6.2"/><circle cx="387.7" cy="475.7" r="6.2"/><circle cx="380.7" cy="488.1" r="6.2"/><circle cx="413.0" cy="498.0" r="6.2"/><circle cx="378.0" cy="501.1" r="6.2"/><circle cx="393.8" cy="503.7" r="6.2"/><circle cx="408.5" cy="511.5" r="6.2"/><circle cx="399.5" cy="515.3" r="6.2"/><circle cx="398.3" cy="516.7" r="6.2"/><circle cx="381.4" cy="514.1" r="6.2"/><circle cx="350.9" cy="514.1" r="6.2"/><circle cx="364.9" cy="516.7" r="6.2"/><circle cx="434.9" cy="514.1" r="6.2"/><circle cx="501.0" cy="510.2" r="6.2"/><circle cx="537.2" cy="508.9" r="6.2"/><circle cx="518.6" cy="516.7" r="6.2"/><circle cx="498.8" cy="521.9" r="6.2"/><circle cx="434.5" cy="527.1" r="6.2"/><circle cx="443.5" cy="524.4" r="6.2"/><circle cx="478.5" cy="529.7" r="6.2"/><circle cx="377.6" cy="529.7" r="6.2"/><circle cx="350.9" cy="533.5" r="6.2"/><circle cx="391.6" cy="534.9" r="6.2"/><circle cx="402.8" cy="537.4" r="6.2"/><circle cx="413.0" cy="542.1" r="6.2"/><circle cx="518.0" cy="542.1" r="6.2"/><circle cx="518.5" cy="543.1" r="6.2"/><circle cx="554.1" cy="549.1" r="6.2"/><circle cx="358.8" cy="546.5" r="6.2"/><circle cx="348.7" cy="549.1" r="6.2"/><circle cx="369.0" cy="555.6" r="6.2"/><circle cx="378.0" cy="563.4" r="6.2"/><circle cx="378.8" cy="564.4" r="6.2"/><circle cx="343.0" cy="564.6" r="6.2"/><circle cx="358.8" cy="566.0" r="6.2"/><circle cx="364.5" cy="567.3" r="6.2"/><circle cx="410.3" cy="560.3" r="6.2"/><circle cx="450.3" cy="569.9" r="6.2"/><circle cx="437.8" cy="573.7" r="6.2"/><circle cx="468.8" cy="567.3" r="6.2"/><circle cx="514.6" cy="576.4" r="6.2"/><circle cx="318.2" cy="552.7" r="6.2"/><circle cx="319.6" cy="554.3" r="6.2"/><circle cx="316.8" cy="583.7" r="6.2"/><circle cx="306.7" cy="585.7" r="6.2"/><circle cx="298.8" cy="593.4" r="6.2"/><circle cx="293.1" cy="596.0" r="6.2"/><circle cx="323.6" cy="606.3" r="6.2"/><circle cx="303.3" cy="616.8" r="6.2"/><circle cx="330.4" cy="618.6" r="6.2"/><circle cx="284.1" cy="635.0" r="6.2"/><circle cx="284.6" cy="636.1" r="6.2"/><circle cx="319.1" cy="629.1" r="6.2"/><circle cx="307.8" cy="635.0" r="6.2"/><circle cx="330.4" cy="639.4" r="6.2"/><circle cx="305.6" cy="645.3" r="6.2"/><circle cx="260.4" cy="657.6" r="6.2"/><circle cx="270.6" cy="655.6" r="6.2"/><circle cx="290.9" cy="653.7" r="6.2"/><circle cx="319.1" cy="653.7" r="6.2"/><circle cx="323.6" cy="658.9" r="6.2"/><circle cx="283.0" cy="665.4" r="6.2"/><circle cx="314.6" cy="670.6" r="6.2"/><circle cx="296.5" cy="670.6" r="6.2"/><circle cx="251.4" cy="671.8" r="6.2"/><circle cx="260.4" cy="675.7" r="6.2"/><circle cx="269.4" cy="675.7" r="6.2"/><circle cx="278.5" cy="677.0" r="6.2"/><circle cx="288.6" cy="678.4" r="6.2"/><circle cx="242.4" cy="682.2" r="6.2"/><circle cx="228.8" cy="688.7" r="6.2"/><circle cx="252.5" cy="687.5" r="6.2"/><circle cx="269.4" cy="687.5" r="6.2"/><circle cx="287.5" cy="686.2" r="6.2"/><circle cx="307.8" cy="683.6" r="6.2"/><circle cx="327.0" cy="687.5" r="6.2"/><circle cx="312.3" cy="691.4" r="6.2"/><circle cx="223.2" cy="697.8" r="6.2"/><circle cx="235.6" cy="700.4" r="6.2"/><circle cx="244.6" cy="695.2" r="6.2"/><circle cx="258.2" cy="699.1" r="6.2"/><circle cx="264.9" cy="697.8" r="6.2"/><circle cx="275.1" cy="699.1" r="6.2"/><circle cx="284.1" cy="693.9" r="6.2"/><circle cx="295.4" cy="701.7" r="6.2"/><circle cx="324.7" cy="696.5" r="6.2"/><circle cx="330.4" cy="705.6" r="6.2"/><circle cx="223.2" cy="710.8" r="6.2"/><circle cx="232.2" cy="705.6" r="6.2"/><circle cx="241.2" cy="708.1" r="6.2"/><circle cx="251.4" cy="709.5" r="6.2"/><circle cx="270.6" cy="709.5" r="6.2"/><circle cx="281.9" cy="712.1" r="6.2"/><circle cx="299.9" cy="714.7" r="6.2"/><circle cx="214.1" cy="719.2" r="6.2"/><circle cx="231.1" cy="716.0" r="6.2"/><circle cx="239.0" cy="718.6" r="6.2"/><circle cx="250.3" cy="719.9" r="6.2"/><circle cx="271.7" cy="726.3" r="6.2"/><circle cx="281.9" cy="723.8" r="6.2"/><circle cx="290.9" cy="723.8" r="6.2"/><circle cx="302.2" cy="725.0" r="6.2"/><circle cx="329.3" cy="726.3" r="6.2"/><circle cx="191.6" cy="731.5" r="6.2"/><circle cx="233.3" cy="727.6" r="6.2"/><circle cx="244.6" cy="731.5" r="6.2"/><circle cx="259.3" cy="731.5" r="6.2"/><circle cx="222.0" cy="735.4" r="6.2"/><circle cx="284.1" cy="735.4" r="6.2"/><circle cx="246.9" cy="692.6" r="6.2"/><circle cx="258.2" cy="690.0" r="6.2"/><circle cx="280.7" cy="703.0" r="6.2"/><circle cx="263.8" cy="712.1" r="6.2"/><circle cx="292.0" cy="709.5" r="6.2"/><circle cx="239.0" cy="727.6" r="6.2"/><circle cx="361.7" cy="581.1" r="6.2"/><circle cx="380.8" cy="584.3" r="6.2"/><circle cx="381.5" cy="585.1" r="6.2"/><circle cx="399.5" cy="583.0" r="6.2"/><circle cx="423.7" cy="581.1" r="6.2"/><circle cx="475.6" cy="583.7" r="6.2"/><circle cx="338.5" cy="598.0" r="6.2"/><circle cx="337.4" cy="607.0" r="6.2"/><circle cx="352.1" cy="594.0" r="6.2"/><circle cx="355.4" cy="592.8" r="6.2"/><circle cx="370.1" cy="593.4" r="6.2"/><circle cx="385.9" cy="592.8" r="6.2"/><circle cx="384.8" cy="601.9" r="6.2"/><circle cx="413.0" cy="591.4" r="6.2"/><circle cx="417.5" cy="595.3" r="6.2"/><circle cx="417.5" cy="599.2" r="6.2"/><circle cx="419.8" cy="588.9" r="6.2"/><circle cx="370.1" cy="609.0" r="6.2"/><circle cx="343.6" cy="621.3" r="6.2"/><circle cx="371.2" cy="621.3" r="6.2"/><circle cx="389.3" cy="621.3" r="6.2"/><circle cx="417.0" cy="613.5" r="6.2"/><circle cx="415.8" cy="627.1" r="6.2"/><circle cx="426.5" cy="622.0" r="6.2"/><circle cx="431.1" cy="622.0" r="6.2"/><circle cx="444.0" cy="631.6" r="6.2"/><circle cx="459.3" cy="647.2" r="6.2"/><circle cx="338.5" cy="633.0" r="6.2"/><circle cx="362.2" cy="635.0" r="6.2"/><circle cx="384.8" cy="636.8" r="6.2"/><circle cx="337.4" cy="652.4" r="6.2"/><circle cx="349.8" cy="653.1" r="6.2"/><circle cx="360.0" cy="654.9" r="6.2"/><circle cx="367.9" cy="653.7" r="6.2"/><circle cx="368.5" cy="654.6" r="6.2"/><circle cx="372.4" cy="652.4" r="6.2"/><circle cx="379.1" cy="651.2" r="6.2"/><circle cx="382.5" cy="653.7" r="6.2"/><circle cx="388.2" cy="649.8" r="6.2"/><circle cx="397.2" cy="647.2" r="6.2"/><circle cx="394.9" cy="658.3" r="6.2"/><circle cx="380.3" cy="664.0" r="6.2"/><circle cx="347.5" cy="665.4" r="6.2"/><circle cx="411.9" cy="664.7" r="6.2"/><circle cx="417.5" cy="667.4" r="6.2"/><circle cx="424.3" cy="667.9" r="6.2"/><circle cx="440.1" cy="656.9" r="6.2"/><circle cx="449.1" cy="670.6" r="6.2"/><circle cx="363.3" cy="674.5" r="6.2"/><circle cx="380.3" cy="673.2" r="6.2"/><circle cx="357.1" cy="684.8" r="6.2"/><circle cx="357.8" cy="685.6" r="6.2"/><circle cx="370.1" cy="683.6" r="6.2"/><circle cx="376.9" cy="680.9" r="6.2"/><circle cx="418.1" cy="693.2" r="6.2"/><circle cx="500.5" cy="675.1" r="6.2"/><circle cx="518.0" cy="682.9" r="6.2"/><circle cx="356.0" cy="703.7" r="6.2"/><circle cx="337.4" cy="705.6" r="6.2"/><circle cx="338.5" cy="716.6" r="6.2"/><circle cx="357.7" cy="728.9" r="6.2"/><circle cx="517.4" cy="730.9" r="6.2"/><circle cx="190.7" cy="747.7" r="6.2"/><circle cx="203.4" cy="765.3" r="6.2"/><circle cx="177.7" cy="781.8" r="6.2"/><circle cx="177.7" cy="786.6" r="6.2"/><circle cx="233.9" cy="773.1" r="6.2"/><circle cx="234.7" cy="778.8" r="6.2"/><circle cx="209.3" cy="749.6" r="6.2"/><circle cx="222.0" cy="755.5" r="6.2"/><circle cx="235.6" cy="750.7" r="6.2"/><circle cx="218.6" cy="744.8" r="6.2"/><circle cx="228.8" cy="740.9" r="6.2"/><circle cx="239.0" cy="738.9" r="6.2"/><circle cx="245.7" cy="748.7" r="6.2"/><circle cx="255.9" cy="755.5" r="6.2"/><circle cx="256.7" cy="760.4" r="6.2"/><circle cx="260.1" cy="738.0" r="6.2"/><circle cx="285.5" cy="737.0" r="6.2"/><circle cx="296.5" cy="757.4" r="6.2"/><circle cx="306.7" cy="763.3" r="6.2"/><circle cx="321.9" cy="744.8" r="6.2"/><circle cx="349.8" cy="749.6" r="6.2"/><circle cx="341.4" cy="760.4" r="6.2"/><circle cx="400.6" cy="749.6" r="6.2"/><circle cx="228.8" cy="742.8" r="6.2"/><circle cx="252.5" cy="746.8" r="6.2"/><circle cx="265.0" cy="742.5" r="6.2"/><circle cx="581.3" cy="601.2" r="6.2"/><circle cx="602.4" cy="598.6" r="6.2"/><circle cx="679.1" cy="588.5" r="6.2"/><circle cx="634.6" cy="629.4" r="6.2"/><circle cx="575.4" cy="649.8" r="6.2"/><circle cx="267.1" cy="691.6" r="6.2"/><circle cx="273.2" cy="694.0" r="6.2"/><circle cx="237.6" cy="687.2" r="6.2"/><circle cx="286.7" cy="712.5" r="6.2"/><circle cx="227.3" cy="714.0" r="6.2"/><circle cx="293.6" cy="645.2" r="6.2"/><circle cx="289.3" cy="696.5" r="6.2"/><circle cx="265.8" cy="716.9" r="6.2"/><circle cx="274.5" cy="698.7" r="6.2"/><circle cx="272.3" cy="700.8" r="6.2"/><circle cx="267.7" cy="666.3" r="6.2"/><circle cx="252.0" cy="662.0" r="6.2"/><circle cx="225.3" cy="697.8" r="6.2"/><circle cx="303.0" cy="665.5" r="6.2"/><circle cx="305.1" cy="657.4" r="6.2"/><circle cx="278.9" cy="681.5" r="6.2"/><circle cx="238.3" cy="707.0" r="6.2"/><circle cx="231.7" cy="699.1" r="6.2"/><circle cx="250.8" cy="720.7" r="6.2"/><circle cx="240.5" cy="676.8" r="6.2"/><circle cx="302.4" cy="670.9" r="6.2"/><circle cx="227.2" cy="693.7" r="6.2"/><circle cx="244.1" cy="695.3" r="6.2"/><circle cx="258.2" cy="682.1" r="6.2"/><circle cx="280.6" cy="719.1" r="6.2"/><circle cx="238.9" cy="726.5" r="6.2"/><circle cx="263.7" cy="650.7" r="6.2"/><circle cx="243.5" cy="704.6" r="6.2"/><circle cx="245.6" cy="715.2" r="6.2"/><circle cx="283.0" cy="667.7" r="6.2"/><circle cx="285.3" cy="637.1" r="6.2"/><circle cx="286.7" cy="632.3" r="6.2"/><circle cx="282.1" cy="634.5" r="6.2"/><circle cx="360.5" cy="655.4" r="6.2"/><circle cx="374.6" cy="657.0" r="6.2"/><circle cx="358.1" cy="650.7" r="6.2"/><circle cx="356.9" cy="650.6" r="6.2"/><circle cx="376.2" cy="649.7" r="6.2"/><circle cx="369.5" cy="650.5" r="6.2"/><circle cx="375.4" cy="586.2" r="6.2"/><circle cx="382.5" cy="589.0" r="6.2"/><circle cx="377.5" cy="581.2" r="6.2"/><circle cx="282.2" cy="636.6" r="6.2"/><circle cx="285.4" cy="635.0" r="6.2"/><circle cx="282.5" cy="637.4" r="6.2"/><circle cx="286.7" cy="635.2" r="6.2"/><circle cx="268.1" cy="648.9" r="6.2"/><circle cx="301.3" cy="654.4" r="6.2"/><circle cx="318.2" cy="651.6" r="6.2"/><circle cx="323.1" cy="653.7" r="6.2"/><circle cx="297.7" cy="668.5" r="6.2"/><circle cx="303.7" cy="668.3" r="6.2"/><circle cx="317.6" cy="660.2" r="6.2"/><circle cx="277.1" cy="650.6" r="6.2"/><circle cx="294.1" cy="723.5" r="6.2"/><circle cx="291.6" cy="674.8" r="6.2"/><circle cx="268.2" cy="694.0" r="6.2"/><circle cx="263.3" cy="677.5" r="6.2"/><circle cx="237.0" cy="695.2" r="6.2"/><circle cx="239.2" cy="695.7" r="6.2"/><circle cx="277.4" cy="693.8" r="6.2"/><circle cx="262.0" cy="711.5" r="6.2"/><circle cx="250.0" cy="673.3" r="6.2"/><circle cx="283.1" cy="703.3" r="6.2"/></g>
<path d="M134.3 166.3 V806.3 H768.8" fill="none" stroke="#111" stroke-width="4.2" stroke-linejoin="miter"/>
<text x="972.9" y="32.3" font-size="37" textLength="792.5" lengthAdjust="spacingAndGlyphs">cstep216 V-CVRC Cl-CVRC Cl-RBC Cl-PLT, CObs</text>
<line x1="1020.0" y1="166.3" x2="1051.8" y2="166.3" stroke="#222" stroke-width="2.7"/>
<text x="1011.5" y="177.6" font-size="31" text-anchor="end">25</text>
<line x1="1020.0" y1="294.3" x2="1051.8" y2="294.3" stroke="#222" stroke-width="2.7"/>
<text x="1011.5" y="305.6" font-size="31" text-anchor="end">20</text>
<line x1="1020.0" y1="422.3" x2="1051.8" y2="422.3" stroke="#222" stroke-width="2.7"/>
<text x="1011.5" y="433.6" font-size="31" text-anchor="end">15</text>
<line x1="1020.0" y1="550.3" x2="1051.8" y2="550.3" stroke="#222" stroke-width="2.7"/>
<text x="1011.5" y="561.6" font-size="31" text-anchor="end">10</text>
<line x1="1020.0" y1="678.3" x2="1051.8" y2="678.3" stroke="#222" stroke-width="2.7"/>
<text x="1011.5" y="689.6" font-size="31" text-anchor="end">5</text>
<line x1="1020.0" y1="806.3" x2="1051.8" y2="806.3" stroke="#222" stroke-width="2.7"/>
<text x="1011.5" y="817.6" font-size="31" text-anchor="end">0</text>
<line x1="1035.0" y1="230.3" x2="1051.8" y2="230.3" stroke="#222" stroke-width="2.7"/>
<line x1="1035.0" y1="358.3" x2="1051.8" y2="358.3" stroke="#222" stroke-width="2.7"/>
<line x1="1035.0" y1="486.3" x2="1051.8" y2="486.3" stroke="#222" stroke-width="2.7"/>
<line x1="1035.0" y1="614.3" x2="1051.8" y2="614.3" stroke="#222" stroke-width="2.7"/>
<line x1="1035.0" y1="742.3" x2="1051.8" y2="742.3" stroke="#222" stroke-width="2.7"/>
<line x1="1051.8" y1="806.3" x2="1051.8" y2="838" stroke="#222" stroke-width="2.7"/>
<text x="1051.8" y="875" font-size="31" text-anchor="middle">0</text>
<line x1="1178.7" y1="806.3" x2="1178.7" y2="838" stroke="#222" stroke-width="2.7"/>
<text x="1178.7" y="875" font-size="31" text-anchor="middle">5</text>
<line x1="1305.6" y1="806.3" x2="1305.6" y2="838" stroke="#222" stroke-width="2.7"/>
<text x="1305.6" y="875" font-size="31" text-anchor="middle">10</text>
<line x1="1432.5" y1="806.3" x2="1432.5" y2="838" stroke="#222" stroke-width="2.7"/>
<text x="1432.5" y="875" font-size="31" text-anchor="middle">15</text>
<line x1="1559.4" y1="806.3" x2="1559.4" y2="838" stroke="#222" stroke-width="2.7"/>
<text x="1559.4" y="875" font-size="31" text-anchor="middle">20</text>
<line x1="1686.3" y1="806.3" x2="1686.3" y2="838" stroke="#222" stroke-width="2.7"/>
<text x="1686.3" y="875" font-size="31" text-anchor="middle">25</text>
<line x1="1115.2" y1="806.3" x2="1115.2" y2="822.5" stroke="#222" stroke-width="2.7"/>
<line x1="1242.1" y1="806.3" x2="1242.1" y2="822.5" stroke="#222" stroke-width="2.7"/>
<line x1="1369.0" y1="806.3" x2="1369.0" y2="822.5" stroke="#222" stroke-width="2.7"/>
<line x1="1495.9" y1="806.3" x2="1495.9" y2="822.5" stroke="#222" stroke-width="2.7"/>
<line x1="1622.8" y1="806.3" x2="1622.8" y2="822.5" stroke="#222" stroke-width="2.7"/>
<text x="1369.0" y="939" font-size="30" text-anchor="middle" textLength="71.5" lengthAdjust="spacingAndGlyphs">PRED</text>
<text transform="translate(944.5,487.3) rotate(-90)" font-size="30" text-anchor="middle">DV</text>
<line x1="1051.8" y1="806.3" x2="1686.3" y2="166.3" stroke="#1a1a1a" stroke-width="2.8"/>
<g fill="none" stroke="#1e1e1e" stroke-width="2.7"><circle cx="1260.4" cy="285.8" r="6.2"/><circle cx="1196.9" cy="367.5" r="6.2"/><circle cx="1259.6" cy="377.6" r="6.2"/><circle cx="1243.1" cy="408.7" r="6.2"/><circle cx="1288.3" cy="441.8" r="6.2"/><circle cx="1305.8" cy="441.8" r="6.2"/><circle cx="1261.8" cy="457.3" r="6.2"/><circle cx="1309.7" cy="467.1" r="6.2"/><circle cx="1293.4" cy="472.5" r="6.2"/><circle cx="1336.8" cy="467.4" r="6.2"/><circle cx="1318.1" cy="482.6" r="6.2"/><circle cx="1144.1" cy="474.9" r="6.2"/><circle cx="1137.7" cy="480.3" r="6.2"/><circle cx="1245.7" cy="487.5" r="6.2"/><circle cx="1411.6" cy="382.9" r="6.2"/><circle cx="1443.3" cy="426.2" r="6.2"/><circle cx="1377.2" cy="441.8" r="6.2"/><circle cx="1455.6" cy="459.7" r="6.2"/><circle cx="1448.3" cy="477.8" r="6.2"/><circle cx="1559.2" cy="436.5" r="6.2"/><circle cx="1563.5" cy="459.7" r="6.2"/><circle cx="1370.5" cy="498.2" r="6.2"/><circle cx="1386.6" cy="497.2" r="6.2"/><circle cx="1199.4" cy="503.3" r="6.2"/><circle cx="1187.6" cy="511.7" r="6.2"/><circle cx="1142.4" cy="528.6" r="6.2"/><circle cx="1160.5" cy="536.4" r="6.2"/><circle cx="1109.1" cy="551.9" r="6.2"/><circle cx="1136.2" cy="551.9" r="6.2"/><circle cx="1145.2" cy="554.5" r="6.2"/><circle cx="1158.8" cy="554.5" r="6.2"/><circle cx="1133.4" cy="564.9" r="6.2"/><circle cx="1140.7" cy="581.8" r="6.2"/><circle cx="1144.1" cy="592.7" r="6.2"/><circle cx="1133.4" cy="605.7" r="6.2"/><circle cx="1177.4" cy="598.0" r="6.2"/><circle cx="1191.0" cy="580.4" r="6.2"/><circle cx="1206.2" cy="585.0" r="6.2"/><circle cx="1200.5" cy="594.6" r="6.2"/><circle cx="1201.5" cy="595.8" r="6.2"/><circle cx="1215.8" cy="601.2" r="6.2"/><circle cx="1223.7" cy="592.7" r="6.2"/><circle cx="1213.5" cy="534.4" r="6.2"/><circle cx="1222.6" cy="534.4" r="6.2"/><circle cx="1238.4" cy="529.1" r="6.2"/><circle cx="1245.1" cy="526.6" r="6.2"/><circle cx="1237.2" cy="549.2" r="6.2"/><circle cx="1232.7" cy="570.0" r="6.2"/><circle cx="1242.9" cy="579.8" r="6.2"/><circle cx="1241.7" cy="590.1" r="6.2"/><circle cx="1240.6" cy="605.7" r="6.2"/><circle cx="1232.7" cy="618.6" r="6.2"/><circle cx="1229.3" cy="622.5" r="6.2"/><circle cx="1197.7" cy="618.1" r="6.2"/><circle cx="1197.7" cy="631.0" r="6.2"/><circle cx="1167.8" cy="625.8" r="6.2"/><circle cx="1180.2" cy="636.2" r="6.2"/><circle cx="1215.2" cy="632.9" r="6.2"/><circle cx="1136.8" cy="630.4" r="6.2"/><circle cx="1125.5" cy="638.7" r="6.2"/><circle cx="1157.1" cy="632.9" r="6.2"/><circle cx="1156.0" cy="638.2" r="6.2"/><circle cx="1139.0" cy="643.3" r="6.2"/><circle cx="1109.1" cy="651.0" r="6.2"/><circle cx="1143.5" cy="651.0" r="6.2"/><circle cx="1144.5" cy="652.3" r="6.2"/><circle cx="1149.2" cy="652.4" r="6.2"/><circle cx="1167.3" cy="649.8" r="6.2"/><circle cx="1189.8" cy="648.5" r="6.2"/><circle cx="1202.2" cy="647.1" r="6.2"/><circle cx="1224.8" cy="651.0" r="6.2"/><circle cx="1244.0" cy="648.5" r="6.2"/><circle cx="1128.9" cy="654.9" r="6.2"/><circle cx="1253.9" cy="515.6" r="6.2"/><circle cx="1285.5" cy="513.6" r="6.2"/><circle cx="1299.6" cy="513.6" r="6.2"/><circle cx="1254.5" cy="533.7" r="6.2"/><circle cx="1269.7" cy="541.5" r="6.2"/><circle cx="1277.6" cy="541.5" r="6.2"/><circle cx="1256.2" cy="547.3" r="6.2"/><circle cx="1268.0" cy="559.7" r="6.2"/><circle cx="1253.3" cy="567.4" r="6.2"/><circle cx="1286.1" cy="564.9" r="6.2"/><circle cx="1252.8" cy="581.1" r="6.2"/><circle cx="1253.5" cy="582.2" r="6.2"/><circle cx="1258.4" cy="590.1" r="6.2"/><circle cx="1286.6" cy="583.6" r="6.2"/><circle cx="1287.5" cy="584.5" r="6.2"/><circle cx="1293.4" cy="591.4" r="6.2"/><circle cx="1294.2" cy="592.3" r="6.2"/><circle cx="1313.7" cy="583.0" r="6.2"/><circle cx="1329.0" cy="566.1" r="6.2"/><circle cx="1330.0" cy="567.3" r="6.2"/><circle cx="1344.2" cy="521.4" r="6.2"/><circle cx="1356.6" cy="513.6" r="6.2"/><circle cx="1367.9" cy="562.2" r="6.2"/><circle cx="1395.0" cy="595.3" r="6.2"/><circle cx="1437.9" cy="513.6" r="6.2"/><circle cx="1441.3" cy="524.6" r="6.2"/><circle cx="1439.0" cy="576.5" r="6.2"/><circle cx="1440.0" cy="577.6" r="6.2"/><circle cx="1268.6" cy="600.5" r="6.2"/><circle cx="1274.2" cy="608.3" r="6.2"/><circle cx="1282.1" cy="620.6" r="6.2"/><circle cx="1279.9" cy="621.3" r="6.2"/><circle cx="1269.7" cy="631.6" r="6.2"/><circle cx="1268.6" cy="635.5" r="6.2"/><circle cx="1281.6" cy="646.6" r="6.2"/><circle cx="1251.0" cy="650.6" r="6.2"/><circle cx="1297.9" cy="653.0" r="6.2"/><circle cx="1316.0" cy="651.0" r="6.2"/><circle cx="1353.8" cy="620.6" r="6.2"/><circle cx="1367.9" cy="612.8" r="6.2"/><circle cx="1343.6" cy="633.6" r="6.2"/><circle cx="1366.2" cy="629.1" r="6.2"/><circle cx="1361.1" cy="634.3" r="6.2"/><circle cx="1359.4" cy="646.6" r="6.2"/><circle cx="1345.3" cy="651.0" r="6.2"/><circle cx="1398.9" cy="643.9" r="6.2"/><circle cx="1404.0" cy="653.7" r="6.2"/><circle cx="1428.8" cy="649.1" r="6.2"/><circle cx="1454.5" cy="541.5" r="6.2"/><circle cx="1507.0" cy="516.3" r="6.2"/><circle cx="1524.0" cy="511.0" r="6.2"/><circle cx="1553.9" cy="508.4" r="6.2"/><circle cx="1559.5" cy="549.2" r="6.2"/><circle cx="1516.6" cy="587.5" r="6.2"/><circle cx="1451.7" cy="598.0" r="6.2"/><circle cx="1492.9" cy="620.6" r="6.2"/><circle cx="1478.2" cy="628.4" r="6.2"/><circle cx="1522.3" cy="620.6" r="6.2"/><circle cx="1446.0" cy="597.7" r="6.2"/><circle cx="1099.5" cy="662.3" r="6.2"/><circle cx="1107.4" cy="662.9" r="6.2"/><circle cx="1088.8" cy="674.6" r="6.2"/><circle cx="1130.0" cy="674.6" r="6.2"/><circle cx="1099.0" cy="695.3" r="6.2"/><circle cx="1099.5" cy="718.0" r="6.2"/><circle cx="1071.3" cy="731.0" r="6.2"/><circle cx="1075.3" cy="749.2" r="6.2"/><circle cx="1102.4" cy="746.5" r="6.2"/><circle cx="1108.0" cy="764.7" r="6.2"/><circle cx="1132.3" cy="784.8" r="6.2"/><circle cx="1156.5" cy="779.6" r="6.2"/><circle cx="1187.6" cy="772.5" r="6.2"/><circle cx="1235.5" cy="777.0" r="6.2"/><circle cx="1222.0" cy="762.2" r="6.2"/><circle cx="1235.5" cy="759.5" r="6.2"/><circle cx="1223.7" cy="748.5" r="6.2"/><circle cx="1241.7" cy="748.5" r="6.2"/><circle cx="1197.7" cy="759.5" r="6.2"/><circle cx="1184.2" cy="751.1" r="6.2"/><circle cx="1185.0" cy="752.3" r="6.2"/><circle cx="1189.8" cy="754.3" r="6.2"/><circle cx="1197.7" cy="746.5" r="6.2"/><circle cx="1209.0" cy="744.0" r="6.2"/><circle cx="1192.1" cy="736.2" r="6.2"/><circle cx="1201.1" cy="734.9" r="6.2"/><circle cx="1211.3" cy="731.0" r="6.2"/><circle cx="1188.7" cy="723.2" r="6.2"/><circle cx="1195.5" cy="723.2" r="6.2"/><circle cx="1206.8" cy="723.2" r="6.2"/><circle cx="1206.8" cy="715.4" r="6.2"/><circle cx="1162.7" cy="728.4" r="6.2"/><circle cx="1175.2" cy="716.8" r="6.2"/><circle cx="1165.0" cy="714.1" r="6.2"/><circle cx="1154.8" cy="709.0" r="6.2"/><circle cx="1219.2" cy="707.7" r="6.2"/><circle cx="1230.5" cy="706.3" r="6.2"/><circle cx="1244.0" cy="710.2" r="6.2"/><circle cx="1240.6" cy="723.2" r="6.2"/><circle cx="1247.4" cy="729.6" r="6.2"/><circle cx="1240.6" cy="688.2" r="6.2"/><circle cx="1229.3" cy="693.3" r="6.2"/><circle cx="1229.3" cy="698.6" r="6.2"/><circle cx="1220.3" cy="680.5" r="6.2"/><circle cx="1223.7" cy="668.7" r="6.2"/><circle cx="1237.2" cy="663.6" r="6.2"/><circle cx="1247.4" cy="663.6" r="6.2"/><circle cx="1242.9" cy="673.9" r="6.2"/><circle cx="1246.3" cy="679.1" r="6.2"/><circle cx="1212.4" cy="657.0" r="6.2"/><circle cx="1177.4" cy="662.3" r="6.2"/><circle cx="1122.1" cy="686.9" r="6.2"/><circle cx="1123.2" cy="698.6" r="6.2"/><circle cx="1124.4" cy="706.3" r="6.2"/><circle cx="1135.6" cy="689.5" r="6.2"/><circle cx="1136.8" cy="705.0" r="6.2"/><circle cx="1143.5" cy="701.1" r="6.2"/><circle cx="1118.7" cy="718.0" r="6.2"/><circle cx="1124.4" cy="720.6" r="6.2"/><circle cx="1134.5" cy="718.0" r="6.2"/><circle cx="1143.5" cy="719.3" r="6.2"/><circle cx="1133.4" cy="731.0" r="6.2"/><circle cx="1122.1" cy="741.4" r="6.2"/><circle cx="1130.0" cy="738.7" r="6.2"/><circle cx="1136.8" cy="741.4" r="6.2"/><circle cx="1141.3" cy="741.4" r="6.2"/><circle cx="1134.5" cy="744.0" r="6.2"/><circle cx="1148.1" cy="673.9" r="6.2"/><circle cx="1149.2" cy="664.8" r="6.2"/><circle cx="1159.4" cy="675.2" r="6.2"/><circle cx="1158.2" cy="685.6" r="6.2"/><circle cx="1161.6" cy="696.0" r="6.2"/><circle cx="1168.4" cy="688.2" r="6.2"/><circle cx="1170.6" cy="696.0" r="6.2"/><circle cx="1177.4" cy="684.2" r="6.2"/><circle cx="1183.1" cy="693.3" r="6.2"/><circle cx="1185.3" cy="705.0" r="6.2"/><circle cx="1193.2" cy="676.5" r="6.2"/><circle cx="1197.7" cy="688.2" r="6.2"/><circle cx="1202.2" cy="680.5" r="6.2"/><circle cx="1209.0" cy="688.2" r="6.2"/><circle cx="1200.0" cy="698.6" r="6.2"/><circle cx="1195.5" cy="705.0" r="6.2"/><circle cx="1206.8" cy="671.4" r="6.2"/><circle cx="1211.3" cy="673.9" r="6.2"/><circle cx="1168.4" cy="658.4" r="6.2"/><circle cx="1141.3" cy="663.6" r="6.2"/><circle cx="1197.7" cy="658.4" r="6.2"/><circle cx="1175.2" cy="707.7" r="6.2"/><circle cx="1270.3" cy="659.7" r="6.2"/><circle cx="1253.0" cy="675.2" r="6.2"/><circle cx="1323.9" cy="667.5" r="6.2"/><circle cx="1329.5" cy="666.1" r="6.2"/><circle cx="1319.4" cy="668.7" r="6.2"/><circle cx="1311.5" cy="679.8" r="6.2"/><circle cx="1321.6" cy="683.0" r="6.2"/><circle cx="1346.5" cy="663.6" r="6.2"/><circle cx="1347.5" cy="664.9" r="6.2"/><circle cx="1377.5" cy="682.4" r="6.2"/><circle cx="1425.5" cy="667.5" r="6.2"/><circle cx="1425.5" cy="672.6" r="6.2"/><circle cx="1266.3" cy="700.6" r="6.2"/><circle cx="1297.9" cy="696.0" r="6.2"/><circle cx="1300.2" cy="701.1" r="6.2"/><circle cx="1266.3" cy="738.7" r="6.2"/><circle cx="1352.1" cy="716.1" r="6.2"/><circle cx="1369.0" cy="725.8" r="6.2"/><circle cx="1358.3" cy="748.5" r="6.2"/><circle cx="1360.0" cy="757.0" r="6.2"/><circle cx="1481.1" cy="657.0" r="6.2"/><circle cx="1508.2" cy="657.7" r="6.2"/><circle cx="1508.7" cy="662.3" r="6.2"/><circle cx="1452.3" cy="682.4" r="6.2"/><circle cx="1525.6" cy="692.7" r="6.2"/><circle cx="1450.0" cy="731.0" r="6.2"/><circle cx="1140.8" cy="658.9" r="6.2"/><circle cx="1163.5" cy="650.7" r="6.2"/><circle cx="1153.8" cy="653.3" r="6.2"/><circle cx="1159.5" cy="658.0" r="6.2"/><circle cx="1140.1" cy="709.0" r="6.2"/><circle cx="1121.2" cy="686.2" r="6.2"/><circle cx="1137.5" cy="703.3" r="6.2"/><circle cx="1134.1" cy="692.1" r="6.2"/><circle cx="1132.7" cy="700.0" r="6.2"/><circle cx="1159.9" cy="694.1" r="6.2"/><circle cx="1163.2" cy="695.5" r="6.2"/><circle cx="1169.6" cy="683.1" r="6.2"/><circle cx="1154.3" cy="700.8" r="6.2"/><circle cx="1160.5" cy="687.0" r="6.2"/><circle cx="1194.4" cy="672.2" r="6.2"/><circle cx="1198.1" cy="673.8" r="6.2"/><circle cx="1190.5" cy="681.4" r="6.2"/><circle cx="1210.1" cy="693.8" r="6.2"/><circle cx="1206.6" cy="675.9" r="6.2"/><circle cx="1201.3" cy="677.6" r="6.2"/><circle cx="1207.1" cy="724.8" r="6.2"/><circle cx="1209.3" cy="727.9" r="6.2"/><circle cx="1208.6" cy="727.6" r="6.2"/><circle cx="1252.5" cy="654.5" r="6.2"/><circle cx="1247.2" cy="648.7" r="6.2"/><circle cx="1222.9" cy="680.5" r="6.2"/><circle cx="1227.8" cy="678.6" r="6.2"/><circle cx="1226.0" cy="685.4" r="6.2"/><circle cx="1181.3" cy="757.0" r="6.2"/><circle cx="1180.3" cy="753.8" r="6.2"/><circle cx="1179.9" cy="747.9" r="6.2"/><circle cx="1196.9" cy="651.0" r="6.2"/><circle cx="1191.4" cy="656.1" r="6.2"/><circle cx="1189.1" cy="652.3" r="6.2"/></g>
<path d="M1051.8 166.3 V806.3 H1686.3" fill="none" stroke="#111" stroke-width="4.2" stroke-linejoin="miter"/>
</g>
</svg>
</body></html>
